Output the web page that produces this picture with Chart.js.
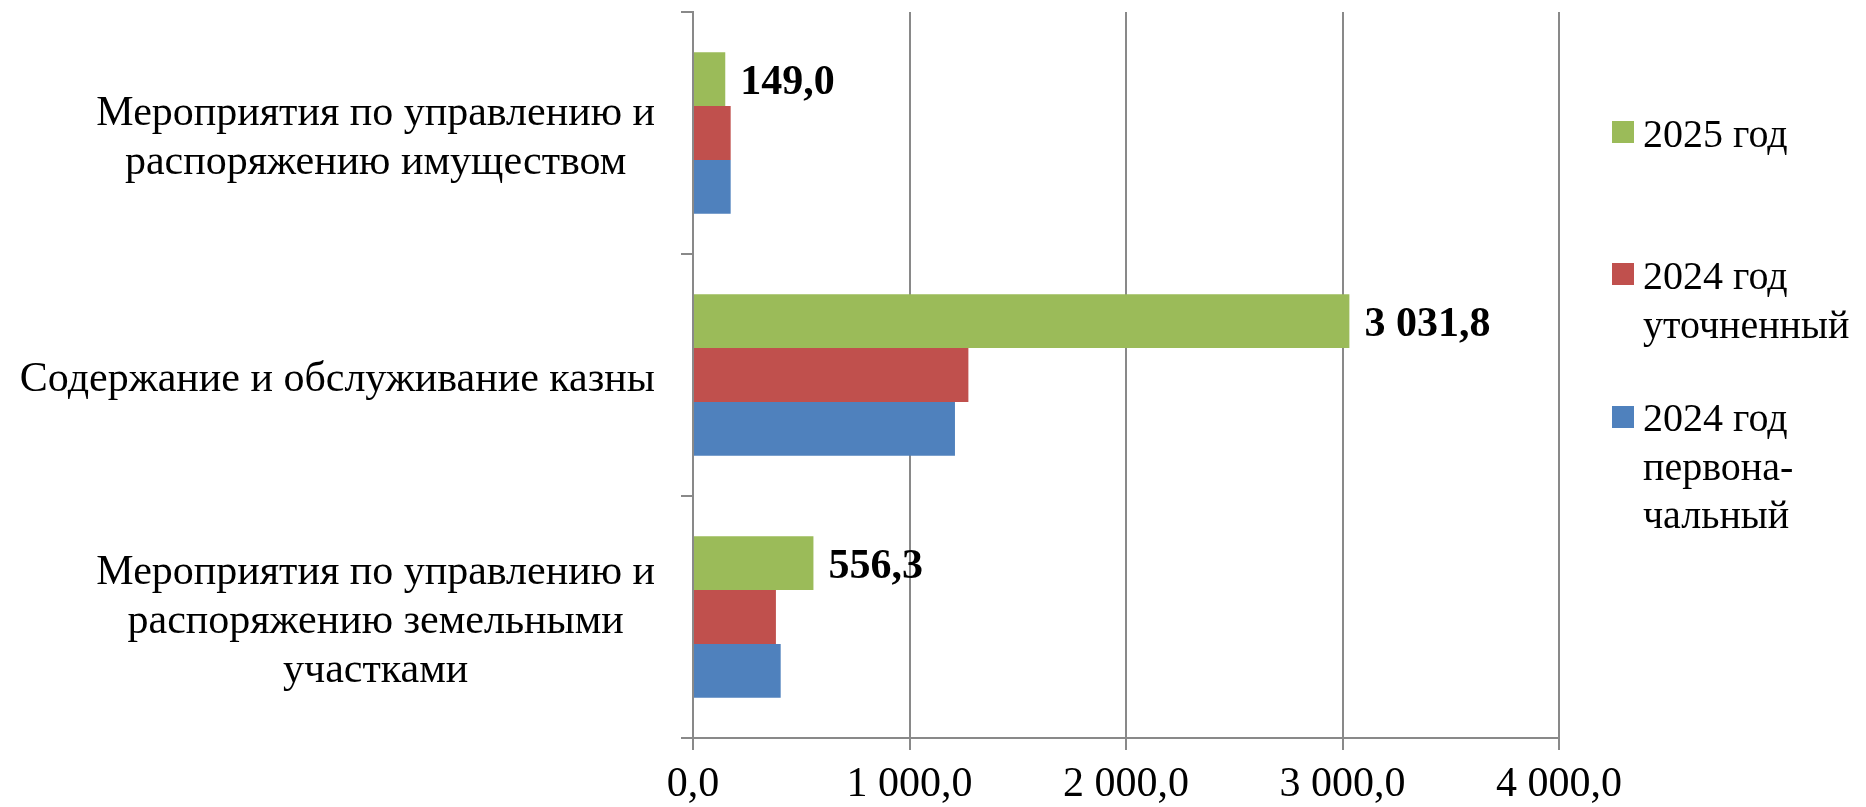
<!DOCTYPE html>
<html lang="ru">
<head>
<meta charset="utf-8">
<title>Расходы</title>
<script src="https://cdn.jsdelivr.net/npm/chart.js@4.4.1/dist/chart.umd.min.js"></script>
<style>
  html, body { margin: 0; padding: 0; background: #fff; }
  #wrap { position: relative; width: 1866px; height: 807px; }
  #legend { position: absolute; left: 1612px; top: 0; font-family: "Liberation Serif", "Times New Roman", serif; font-size: 40px; line-height: 48.5px; color: #000; }
  .item { position: absolute; left: 0; white-space: nowrap; }
  .swatch { position: absolute; left: 0; width: 22px; height: 22px; }
  .label { position: absolute; left: 31px; top: 0; }
</style>
</head>
<body>
<div id="wrap">
  <canvas id="chart" width="1866" height="807"></canvas>
  <div id="legend"></div>
</div>
<script>
// categories (top to bottom), each label split into its lines
const categories = [
  ['Мероприятия по управлению и', 'распоряжению имуществом'],
  ['Содержание и обслуживание казны'],
  ['Мероприятия по управлению и', 'распоряжению земельными', 'участками']
];

// series values
const values2025 = [149.0, 3031.8, 556.3];
const values2024Refined = [174.0, 1272.0, 383.0];
const values2024Initial = [174.0, 1210.0, 405.0];

// legend text, split into lines
const seriesNames = [
  ['2025 год'],
  ['2024 год', 'уточненный'],
  ['2024 год', 'первона-', 'чальный']
];

// x axis ticks
const xTicks = [0, 1000, 2000, 3000, 4000];

const colors = ['#9BBB59', '#C0504D', '#4F81BD'];
const serif = '"Liberation Serif", "Times New Roman", serif';
const gridColor = '#898989';

function fmt(v) {
  const parts = v.toFixed(1).split('.');
  return parts[0].replace(/\B(?=(\d{3})+(?!\d))/g, ' ') + ',' + parts[1];
}

// category labels: each label centred on its own widest line, block right-aligned
const categoryLabels = {
  id: 'categoryLabels',
  afterDraw(chart) {
    const ctx = chart.ctx;
    const yScale = chart.scales.y;
    const right = chart.chartArea.left - 38;
    const lineH = 49;
    ctx.save();
    ctx.font = '42px ' + serif;
    ctx.fillStyle = '#000';
    ctx.textAlign = 'center';
    ctx.textBaseline = 'middle';
    categories.forEach((lines, i) => {
      const widest = Math.max(...lines.map(l => ctx.measureText(l).width));
      const cx = right - widest / 2;
      const cy = yScale.getPixelForValue(i) + 5;
      lines.forEach((line, j) => {
        ctx.fillText(line, cx, cy + (j - (lines.length - 1) / 2) * lineH);
      });
    });
    ctx.restore();
  }
};

// value labels next to the 2025 bars
const valueLabels = {
  id: 'valueLabels',
  afterDatasetsDraw(chart) {
    const ctx = chart.ctx;
    const meta = chart.getDatasetMeta(0);
    ctx.save();
    ctx.font = 'bold 42px ' + serif;
    ctx.fillStyle = '#000';
    ctx.textAlign = 'left';
    ctx.textBaseline = 'middle';
    meta.data.forEach((bar, i) => {
      ctx.fillText(fmt(values2025[i]), bar.x + 15, bar.y + 4);
    });
    ctx.restore();
  }
};

const ctx = document.getElementById('chart').getContext('2d');

new Chart(ctx, {
  type: 'bar',
  data: {
    labels: categories.map(c => c.join(' ')),
    datasets: [
      { label: seriesNames[0].join(' '), data: values2025, backgroundColor: colors[0] },
      { label: seriesNames[1].join(' '), data: values2024Refined, backgroundColor: colors[1] },
      { label: seriesNames[2].join(' '), data: values2024Initial, backgroundColor: colors[2] }
    ]
  },
  options: {
    indexAxis: 'y',
    responsive: false,
    animation: false,
    layout: {
      padding: { top: 12, right: 307, bottom: 0, left: 0 }
    },
    datasets: {
      bar: { categoryPercentage: 0.667, barPercentage: 1.0, borderWidth: 0 }
    },
    plugins: {
      legend: { display: false },
      tooltip: { enabled: false }
    },
    scales: {
      x: {
        min: 0,
        max: 4000,
        afterBuildTicks: scale => { scale.ticks = xTicks.map(v => ({ value: v })); },
        afterFit: scale => { scale.height = 69; },
        grid: { color: gridColor, lineWidth: 2, tickLength: 12, drawTicks: true },
        border: { display: true, color: gridColor, width: 2 },
        ticks: {
          padding: 10,
          color: '#000',
          font: { family: serif, size: 42 },
          callback: v => fmt(v)
        }
      },
      y: {
        afterFit: scale => { scale.width = 693; },
        grid: { drawOnChartArea: false, offset: true, color: gridColor, lineWidth: 2, tickLength: 12 },
        border: { display: true, color: gridColor, width: 2 },
        ticks: { display: false }
      }
    }
  },
  plugins: [categoryLabels, valueLabels]
});

// legend on the right
const legendTops = [110, 252, 394];
const swatchTops = [121, 263, 406];
const legend = document.getElementById('legend');
seriesNames.forEach((lines, i) => {
  const item = document.createElement('div');
  item.className = 'item';
  item.style.top = '0px';
  const sw = document.createElement('div');
  sw.className = 'swatch';
  sw.style.background = colors[i];
  sw.style.top = swatchTops[i] + 'px';
  const lab = document.createElement('div');
  lab.className = 'label';
  lab.style.top = legendTops[i] + 'px';
  lab.innerHTML = lines.join('<br>');
  item.appendChild(sw);
  item.appendChild(lab);
  legend.appendChild(item);
});
</script>
</body>
</html>
